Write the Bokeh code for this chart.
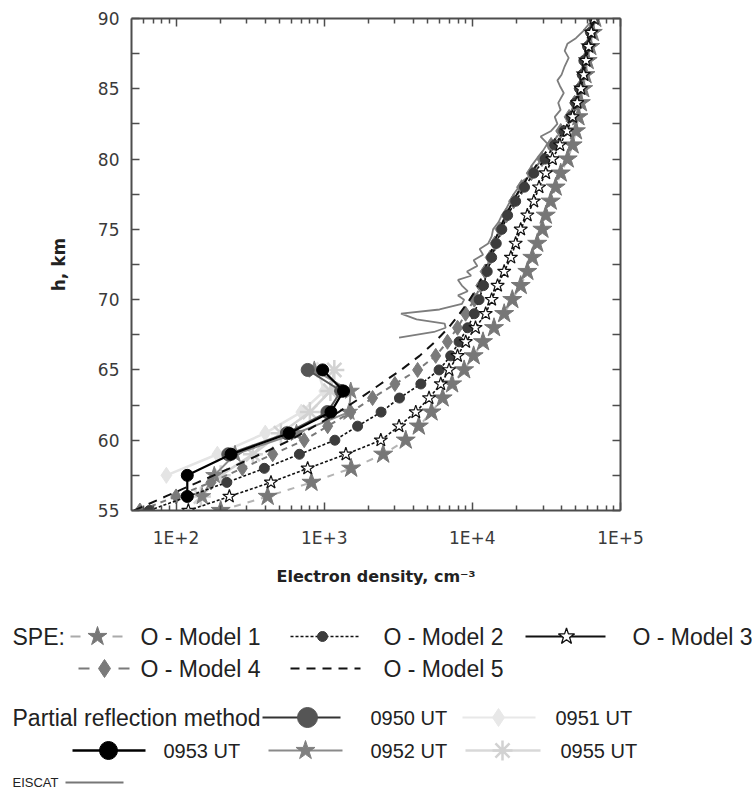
from bokeh.plotting import figure
from bokeh.models import Range1d, FixedTicker, LogAxis, LinearAxis, CustomJSTickFormatter
from bokeh.layouts import column
from bokeh.embed import file_html
from bokeh.resources import INLINE
from bokeh.core.properties import value

# ---------------- data ----------------
h_model = [55, 56, 57, 58, 59, 60, 61, 62, 63, 64, 65, 66, 67, 68, 69, 70, 71, 72,
           73, 74, 75, 76, 77, 78, 79, 80, 81, 82, 83, 84, 85, 86, 87, 88, 89, 90]
model1 = [200, 415, 820, 1520, 2500, 3550, 4350, 5300, 6300, 7300, 8800, 10200, 11800, 14000,
          16400, 18600, 21200, 23500, 25400, 27400, 29700, 31300, 33800, 36500, 39500, 44000,
          47500, 50000, 52000, 54000, 56000, 58000, 60000, 62500, 65000, 67500]
model2 = [66, 120, 220, 394, 680, 1180, 1680, 2420, 3220, 4490, 5960, 7140, 8130, 9300, 10300,
          11100, 11900, 12600, 13500, 14500, 15800, 17300, 19600, 22500, 26000, 31000, 36000,
          41500, 46500, 49800, 53000, 55200, 56600, 60000, 62800, 66000]
model3 = [121, 229, 437, 773, 1400, 2410, 3200, 4150, 5100, 6120, 6960, 7940, 9020, 10500, 12300,
          13500, 14800, 16400, 18200, 19600, 21200, 23500, 26000, 28200, 31300, 34700, 39000,
          43500, 47500, 51000, 54000, 56500, 58500, 61000, 63500, 66500]
model4 = [57, 100, 172, 280, 449, 733, 1055, 1510, 2120, 3000, 4270, 5660, 6790, 7940, 9000,
          10300, 11400, 12200, 13200, 14200, 15400, 17000, 19000, 21500, 25000, 29500, 34000,
          39500, 45000, 49000, 52500, 55000, 57000, 60000, 62500, 65500]
model5 = [52, 85, 140, 230, 370, 590, 860, 1250, 1750, 2400, 3300, 4400, 5600, 6900, 8200, 9600,
          11000, 12000, 13000, 14000, 15200, 16800, 18800, 21300, 24800, 29000, 34000, 39500,
          45000, 49000, 52500, 55000, 57000, 59500, 62500, 65500]

h_0950 = [59, 60.5, 62, 63.5, 65]
n_0950 = [225, 560, 1050, 1300, 773]
h_0951 = [57.5, 59, 60.5, 62, 63.5, 65]
n_0951 = [86, 190, 400, 700, 1000, 900]
h_0952 = [56, 57.5, 59, 60.5, 62, 63.5, 65]
n_0952 = [150, 181, 250, 650, 1470, 1510, 857]
h_0953 = [56, 57.5, 59, 60.5, 62, 63.5, 65]
n_0953 = [119, 119, 235, 580, 1110, 1350, 975]
h_0955 = [56, 57.5, 59, 60.5, 62, 63.5, 65]
n_0955 = [147, 200, 330, 510, 800, 1100, 1170]

h_eiscat = [67.3, 67.7, 68.0, 68.3, 68.6, 69.0, 69.3, 69.7, 70.0, 70.3, 70.6, 71.0, 71.4, 71.7,
            72.0, 72.4, 72.8, 73.2, 73.6, 74.0, 74.5, 75.0, 75.5, 76.0, 76.5, 77.0, 77.5, 78.0,
            78.5, 79.0, 79.5, 80.1, 80.6, 81.1, 81.6, 82.0, 82.5, 83.0, 83.5, 84.0, 84.7, 85.2,
            85.6, 86.0, 86.6, 87.2, 87.7, 88.2, 88.6, 89.1, 89.5, 90.0]
n_eiscat = [3200, 5500, 6600, 6500, 4200, 3300, 6000, 8500, 8800, 8000, 9300, 8500, 8000, 9800,
            9200, 10800, 10200, 11800, 11200, 12800, 13500, 13800, 15000, 15800, 17000, 18000,
            19000, 20500, 22200, 25900, 25000, 27500, 30000, 32100, 28900, 34000, 37500, 36000,
            39400, 38000, 41400, 39000, 37500, 40000, 42000, 44700, 42000, 43800, 50000, 56000,
            60000, 66000]

x_major = [100, 1000, 10000, 100000]
y_major = [55, 60, 65, 70, 75, 80, 85, 90]
y_minor = [57.5, 62.5, 67.5, 72.5, 77.5, 82.5, 87.5]
x_minor = [m * 10 ** e for e in (1, 2, 3, 4) for m in range(2, 10) if 50 < m * 10 ** e < 1e5]

# ---------------- main plot ----------------
p = figure(width=752, height=610, x_axis_type="log",
           x_range=Range1d(50, 1e5), y_range=Range1d(55, 90),
           output_backend="svg", toolbar_location=None,
           min_border_left=131, min_border_right=132, min_border_top=18, min_border_bottom=100)
p.frame_align = False
p.xgrid.visible = False
p.ygrid.visible = False
p.outline_line_color = None

xt = FixedTicker(ticks=x_major, minor_ticks=x_minor)
yt = FixedTicker(ticks=y_major, minor_ticks=y_minor)
fmt = CustomJSTickFormatter(code="return '1E+' + Math.round(Math.log10(tick));")

AX = "#4d4d4d"
def style_axis(ax, minor_len):
    ax.axis_line_color = AX
    ax.axis_line_width = 2
    ax.major_tick_line_color = AX
    ax.minor_tick_line_color = AX
    ax.major_tick_line_width = 1.5
    ax.minor_tick_line_width = 1.5
    ax.major_tick_in = 8
    ax.major_tick_out = 0
    ax.minor_tick_in = minor_len
    ax.minor_tick_out = 0
    ax.major_label_text_font = "DejaVu Sans"
    ax.major_label_text_font_size = "17px"
    ax.major_label_text_color = "#3a3a3a"

xa = p.xaxis[0]
xa.ticker = xt
xa.formatter = fmt
style_axis(xa, 5)
xa.major_label_standoff = 17
xa.axis_label = "Electron density, cm\u207b\u00b3"
xa.axis_label_text_font = "DejaVu Sans"
xa.axis_label_text_font_size = "16px"
xa.axis_label_text_font_style = "bold"
xa.axis_label_text_color = "#222222"
xa.axis_label_standoff = 16

ya = p.yaxis[0]
ya.ticker = yt
style_axis(ya, 8)
ya.major_label_standoff = 12
ya.axis_label = "h, km"
ya.axis_label_text_font = "DejaVu Sans"
ya.axis_label_text_font_size = "17px"
ya.axis_label_text_font_style = "bold"
ya.axis_label_text_color = "#222222"
ya.axis_label_standoff = 26

top = LogAxis(ticker=xt, formatter=fmt)
style_axis(top, 5)
top.major_label_text_font_size = "1px"
top.major_label_text_alpha = 0
top.major_label_standoff = 0
p.add_layout(top, "above")
right = LinearAxis(ticker=yt)
style_axis(right, 8)
right.major_label_text_font_size = "1px"
right.major_label_text_alpha = 0
right.major_label_standoff = 0
p.add_layout(right, "right")

# EISCAT
p.line(n_eiscat, h_eiscat, line_color="#7d7d7d", line_width=1.8)
# Model 1
p.line(model1, h_model, line_color="#b4b4b4", line_width=2, line_dash="7 7")
p.scatter(model1, h_model, marker="star", size=20, fill_color="#777777", line_color="#777777")
# partial reflection (light ones first)
p.line(n_0951, h_0951, line_color="#e4e4e4", line_width=2.5)
p.scatter(n_0951, h_0951, marker="diamond", size=16, fill_color="#e4e4e4", line_color="#e4e4e4")
p.line(n_0955, h_0955, line_color="#d2d2d2", line_width=2.5)
p.scatter(n_0955, h_0955, marker="asterisk", size=20, line_color="#d2d2d2", line_width=2.5)
p.line(n_0952, h_0952, line_color="#8a8a8a", line_width=2)
p.scatter(n_0952, h_0952, marker="star", size=18, fill_color="#808080", line_color="#808080")
p.line(n_0950, h_0950, line_color="#555555", line_width=2)
p.scatter(n_0950, h_0950, marker="circle", size=13, fill_color="#555555", line_color="#555555")
# Model 4
p.line(model4, h_model, line_color="#7a7a7a", line_width=2, line_dash="6 5")
p.scatter(model4, h_model, marker="diamond", size=15, fill_color="#7a7a7a", line_color="#7a7a7a")
# Model 5
p.line(model5, h_model, line_color="#111111", line_width=2, line_dash="9 7")
# Model 2
p.line(model2, h_model, line_color="#111111", line_width=1.6, line_dash="3 2")
p.scatter(model2, h_model, marker="circle", size=10, fill_color="#3c3c3c", line_color="#3c3c3c")
# Model 3
p.line(model3, h_model, line_color="#111111", line_width=1.6, line_dash="3 2")
p.scatter(model3, h_model, marker="star", size=14, fill_color="white", line_color="#111111", line_width=1.2)
# 0953
p.line(n_0953, h_0953, line_color="#000000", line_width=2.2)
p.scatter(n_0953, h_0953, marker="circle", size=12, fill_color="#000000", line_color="#000000")

# ---------------- legend panel ----------------
lg = figure(width=752, height=186, x_range=Range1d(0, 752), y_range=Range1d(186, 0),
            output_backend="svg", toolbar_location=None, min_border=0,
            x_axis_location=None, y_axis_location=None)
lg.frame_align = False
lg.xgrid.visible = False
lg.ygrid.visible = False
lg.outline_line_color = None

TF = value("Liberation Sans")
TC = "#222222"

def txt(x, y, s, size="23px"):
    lg.text(x=[x], y=[y], text=[s], text_font=TF, text_font_size=size,
            text_color=TC, text_baseline="middle", text_align="left")

def seg(x0, x1, y, color, width=2, dash="solid"):
    lg.line([x0, x1], [y, y], line_color=color, line_width=width, line_dash=dash)

r1, r2, r3, r4, r5 = 26, 58, 107, 140, 172
txt(12, r1, "SPE:")
seg(70, 80, r1, "#aaaaaa", 2); seg(112, 122, r1, "#aaaaaa", 2)
lg.scatter([97], [r1], marker="star", size=20, fill_color="#777777", line_color="#777777")
txt(140, r1, "O - Model 1")
seg(290, 358, r1, "#111111", 1.6, "3 2")
lg.scatter([322], [r1], marker="circle", size=10, fill_color="#3c3c3c", line_color="#3c3c3c")
txt(383, r1, "O - Model 2")
seg(525, 605, r1, "#111111", 2)
lg.scatter([566], [r1], marker="star", size=17, fill_color="white", line_color="#111111", line_width=1.3)
txt(632, r1, "O - Model 3")

seg(78, 89, r2, "#7a7a7a", 2); seg(118, 129, r2, "#7a7a7a", 2)
lg.scatter([104], [r2], marker="diamond", size=18, fill_color="#7a7a7a", line_color="#7a7a7a")
txt(140, r2, "O - Model 4")
seg(290, 360, r2, "#111111", 2, "9 7")
txt(383, r2, "O - Model 5")

txt(12, r3, "Partial reflection method")
seg(262, 340, r3, "#333333", 2)
lg.scatter([307], [r3], marker="circle", size=20, fill_color="#555555", line_color="#555555")
txt(370, r3, "0950 UT", "20px")
seg(462, 535, r3, "#e8e8e8", 2)
lg.scatter([498], [r3], marker="diamond", size=18, fill_color="#e8e8e8", line_color="#e8e8e8")
txt(555, r3, "0951 UT", "20px")

seg(72, 145, r4, "#000000", 2.5)
lg.scatter([108], [r4], marker="circle", size=18, fill_color="#000000", line_color="#000000")
txt(163, r4, "0953 UT", "20px")
seg(268, 342, r4, "#8a8a8a", 2)
lg.scatter([305], [r4], marker="star", size=20, fill_color="#808080", line_color="#808080")
txt(370, r4, "0952 UT", "20px")
seg(465, 540, r4, "#d8d8d8", 2.5)
lg.scatter([502], [r4], marker="asterisk", size=20, line_color="#d2d2d2", line_width=2.5)
txt(560, r4, "0955 UT", "20px")

txt(12, r5, "EISCAT", "13px")
seg(65, 123, r5, "#777777", 2)

layout = column(p, lg, spacing=0)
open("out.html", "w").write(file_html(layout, INLINE))
